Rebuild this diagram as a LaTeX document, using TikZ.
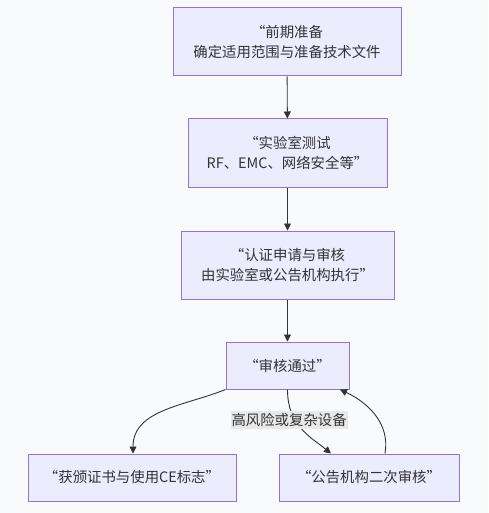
\documentclass[tikz,border=0pt]{standalone}
\usepackage{fontspec}
\setmainfont{Noto Sans CJK SC}
\usetikzlibrary{arrows.meta}
\definecolor{boxfill}{HTML}{ECECFF}
\definecolor{boxline}{HTML}{9370DB}
\definecolor{inkgray}{HTML}{333333}
\definecolor{pagebg}{HTML}{F9FAFC}
\definecolor{labelbg}{HTML}{E8E8E8}

\begin{document}
\begin{tikzpicture}[x=1pt,y=-1pt,
    stage/.style={draw=boxline, fill=boxfill, line width=1pt, text=inkgray,
      align=center, font=\fontsize{14.4}{20.3}\selectfont, inner sep=0pt},
    flow/.style={draw=inkgray, line width=0.9pt, -{Triangle[length=7pt,width=7pt]}},
    tag/.style={fill=labelbg, text=inkgray, font=\fontsize{14.4}{18}\selectfont,
      inner xsep=1pt, inner ysep=2pt}]
    % Page and background
    \fill[pagebg] (0,0) rectangle (488,513);
    \useasboundingbox (0,0) rectangle (488,513);

    % Main stages
    \node[stage, minimum width=228pt, minimum height=68pt] (prep) at (287,42)
      {“前期准备\\确定适用范围与准备技术文件};
    \node[stage, minimum width=199pt, minimum height=68pt] (labtest) at (287.5,153)
      {“实验室测试\\RF、EMC、网络安全等”};
    \node[stage, minimum width=213pt, minimum height=68pt] (apply) at (287.5,265)
      {“认证申请与审核\\由实验室或公告机构执行”};
    \node[stage, minimum width=123pt, minimum height=47pt] (passed) at (287.5,365.5)
      {“审核通过”};

    % Outcomes
    \node[stage, minimum width=208pt, minimum height=47pt] (cemark) at (132,477.5)
      {“获颁证书与使用CE标志”};
    \node[stage, minimum width=180pt, minimum height=47pt] (recheck) at (369,477.5)
      {“公告机构二次审核”};

    % Straight steps
    \draw[flow] (prep) -- (labtest);
    \draw[flow] (labtest) -- (apply);
    \draw[flow] (apply) -- (passed);

    % Curved branches
    \draw[flow] (passed.south west) to[out=202,in=90] ([xshift=1pt]cemark.north);
    \draw[flow] (passed.south) .. controls +(0,36) and +(-21,-17)
      .. node[tag, pos=0.36, xshift=-6pt] (risk) {高风险或复杂设备} ([xshift=-38pt]recheck.north);
    \draw[flow] ([xshift=16pt]recheck.north) to[out=80,in=-25] ([xshift=52.5pt]passed.south);
\end{tikzpicture}
\end{document}
